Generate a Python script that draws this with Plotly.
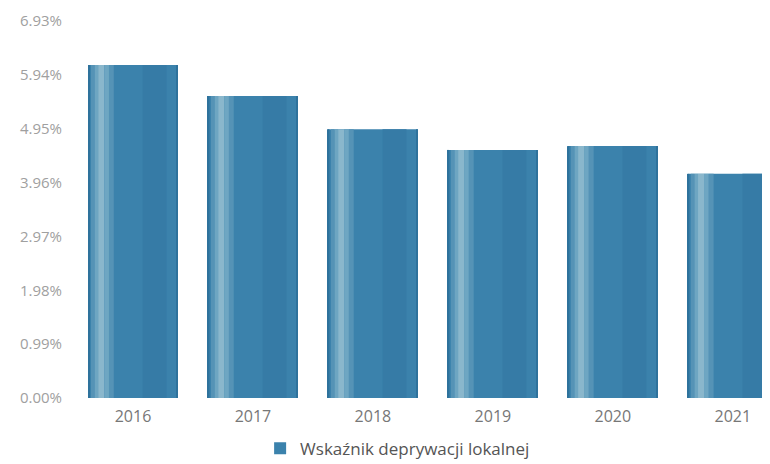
import plotly.graph_objects as go

years = ["2016", "2017", "2018", "2019", "2020", "2021"]
values = [6.12, 5.55, 4.94, 4.56, 4.63, 4.12]
tick_vals = [0, 0.99, 1.98, 2.97, 3.96, 4.95, 5.94, 6.93]
tick_text = ["0.00%", "0.99%", "1.98%", "2.97%", "3.96%", "4.95%", "5.94%", "6.93%"]
series_name = "Wskaźnik deprywacji lokalnej"

fig = go.Figure()

# base bar
fig.add_trace(go.Bar(
    x=years, y=values, name=series_name, width=0.75,
    marker=dict(color="#3b82ac", line=dict(width=0)),
    hovertemplate="%{x}: %{y:.2f}%<extra></extra>",
))

# strips to fake the horizontal shading of the bars
strips = [
    (-0.375, 0.012, "#2e729c"),
    (-0.35, 0.03, "#5593b6"),
    (-0.32, 0.03, "#6ea6c2"),
    (-0.29, 0.05, "#8ab7cc"),
    (-0.24, 0.04, "#6ea6c2"),
    (-0.20, 0.04, "#5593b6"),
    (0.08, 0.20, "#367ba6"),
    (0.36, 0.015, "#2e729c"),
]
for off, w, col in strips:
    fig.add_trace(go.Bar(
        x=years, y=values, width=w, offset=off, showlegend=False,
        marker=dict(color=col, line=dict(width=0)), hoverinfo="skip",
    ))

# page body adds an 8px margin, so the margins below are shifted by 8
fig.update_layout(
    width=770, height=464,
    barmode="overlay",
    plot_bgcolor="white", paper_bgcolor="white",
    margin=dict(l=65, r=8, t=13, b=74),
    font=dict(family="Open Sans, sans-serif", color="#777"),
    showlegend=True,
    legend=dict(
        orientation="h", xref="container", x=0.506, xanchor="center",
        yref="container", y=0.05, yanchor="middle",
        font=dict(size=17, color="#555"), itemwidth=30,
    ),
)
fig.update_xaxes(
    range=[-0.5, 5.31], showgrid=False, showline=False, zeroline=False,
    tickfont=dict(size=16, color="#777"), ticks="outside", ticklen=4,
    tickcolor="rgba(0,0,0,0)", automargin=False,
)
fig.update_yaxes(
    range=[0, 6.93], tickvals=tick_vals, ticktext=tick_text,
    showgrid=False, showline=False, zeroline=False,
    tickfont=dict(size=15, color="#a0a0a0"), ticklabelstandoff=10,
    ticklabeloverflow="allow", automargin=False,
)

fig.write_html("out.html")
